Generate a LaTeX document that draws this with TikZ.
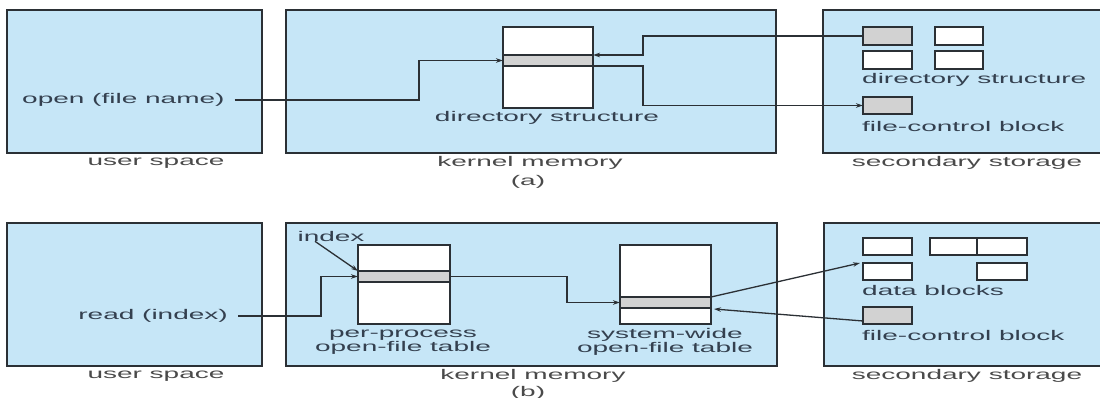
\documentclass[tikz,border=0pt]{standalone}
\usepackage{fontspec}
\usetikzlibrary{arrows.meta}
\newfontfamily\lblfont{Liberation Sans}[FakeStretch=2.0]
\definecolor{panelfill}{HTML}{C6E6F7}
\definecolor{bandfill}{HTML}{D2D2D2}
\definecolor{edge}{HTML}{2B3035}
\definecolor{inktext}{HTML}{34404F}
\definecolor{captext}{HTML}{4A4A4A}
\tikzset{
  panel/.style={draw=edge, line width=1.6pt, fill=panelfill, inner sep=0pt, outer sep=0pt},
  tablebox/.style={draw=edge, line width=1.4pt, fill=white, inner sep=0pt, outer sep=0pt},
  band/.style={draw=edge, line width=1.2pt, fill=bandfill, inner sep=0pt, outer sep=0pt},
  blk/.style={draw=edge, line width=1.4pt, fill=white, inner sep=0pt, outer sep=0pt},
  gblk/.style={draw=edge, line width=1.4pt, fill=bandfill, inner sep=0pt, outer sep=0pt},
  txt/.style={inner sep=0pt, text=inktext, font=\lblfont\fontsize{14}{14}\selectfont},
  captionlbl/.style={inner sep=0pt, text=captext, font=\lblfont\fontsize{14}{14}\selectfont},
  conn/.style={draw=edge, line width=1.3pt},
  arr/.style={conn, -{Stealth[length=7pt,width=4.5pt]}},
}
\newcommand{\boxat}[6]{% style, name, x1, y1, x2, y2
  \node[#1, minimum width={(#5-#3)*1pt}, minimum height={(#6-#4)*1pt}]
    (#2) at ({(#3+#5)/2},{(#4+#6)/2}) {};}
\begin{document}
\begin{tikzpicture}[x=1pt, y=-1pt]
\useasboundingbox (0,0) rectangle (1100,398);

% ---------- (a) open ----------
\boxat{panel}{userA}{7}{10}{262}{153}
\boxat{panel}{kernA}{286}{10}{776}{153}
\boxat{panel}{storA}{823}{10}{1112}{153}

\boxat{tablebox}{dirA}{503}{27}{593}{108}
\boxat{band}{bandA}{503}{55}{593}{66}
\node[txt] (dirlabA) at (547,118) {directory structure};

\boxat{gblk}{dsA1}{863}{27}{912}{45}
\boxat{blk}{dsA2}{935}{27}{983}{45}
\boxat{blk}{dsA3}{863}{51}{912}{69}
\boxat{blk}{dsA4}{935}{51}{983}{69}
\node[txt, anchor=west] (dslabA) at (862,80) {directory structure};
\boxat{gblk}{fcbA}{863}{97}{912}{114}
\node[txt, anchor=west] (fcblabA) at (862,126) {file-control block};

\node[txt, anchor=west] (openA) at (22,100) {open (file name)};

\node[captionlbl] (usA) at (156,163) {user space};
\node[captionlbl] (kmA) at (530,163) {kernel memory};
\node[captionlbl] (subA) at (528,182) {(a)};
\node[captionlbl] (ssA) at (967,163) {secondary storage};

\draw[arr] ([xshift=10pt]openA.east) -- (419,100) |- (bandA.west);
\draw[arr] (dsA1.west) -- (643,36) |- (bandA.north east);
\draw[arr] (bandA.south east) -- (643,66) |- (fcbA.west);

% ---------- (b) read ----------
\boxat{panel}{userB}{7}{223}{262}{366}
\boxat{panel}{kernB}{286}{223}{777}{366}
\boxat{panel}{storB}{824}{223}{1112}{366}

\boxat{tablebox}{ppB}{358}{245}{450}{324}
\boxat{band}{bandP}{358}{271}{450}{282}
\node[txt, align=center] (pplab) at (403,342) {per-process\\open-file table};

\boxat{tablebox}{swB}{620}{245}{711}{324}
\boxat{band}{bandS}{620}{297}{711}{308}
\node[txt, align=center] (swlab) at (665,342) {system-wide\\open-file table};

\boxat{blk}{db1}{863}{238}{912}{255}
\boxat{blk}{db2}{930}{238}{977}{255}
\boxat{blk}{db3}{977}{238}{1027}{255}
\boxat{blk}{db4}{863}{263}{912}{280}
\boxat{blk}{db5}{977}{263}{1027}{280}
\node[txt, anchor=west] (dblab) at (862,290) {data blocks};
\boxat{gblk}{fcbB}{863}{307}{912}{324}
\node[txt, anchor=west] (fcblabB) at (862,335) {file-control block};

\node[txt, anchor=east] (readB) at (228,316) {read (index)};
\node[txt] (indexB) at (331,236) {index};

\node[captionlbl] (usB) at (156,376) {user space};
\node[captionlbl] (kmB) at (533,376) {kernel memory};
\node[captionlbl] (subB) at (528,393) {(b)};
\node[captionlbl] (ssB) at (967,376) {secondary storage};

\draw[arr] ([xshift=10pt]readB.east) -- (321,316) |- (bandP.west);
\draw[arr] ([xshift=-16pt]indexB.south) -- (bandP.north west);
\draw[arr] (bandP.east) -- (567,276.5) |- (bandS.west);
\draw[arr] (bandS.north east) -- ([xshift=-3pt]db4.north west);
\draw[arr] ([yshift=-5.5pt]fcbB.west) -- ([xshift=3pt,yshift=-1pt]bandS.south east);
\end{tikzpicture}
\end{document}
